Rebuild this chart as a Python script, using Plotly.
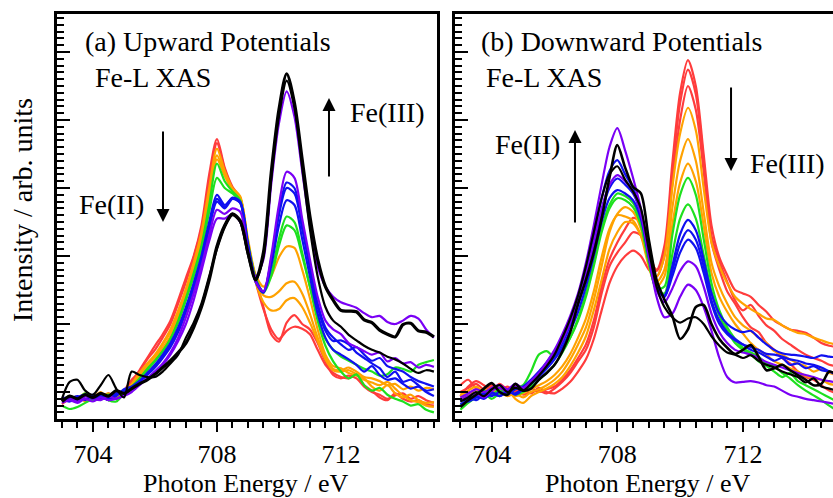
import plotly.graph_objects as go

# Photon energy grid (eV)
energy = [703 + 0.25 * i for i in range(49)]

# ---------------- (a) Upward potentials ----------------
up_red_1 = [-0.12, -0.08, -0.14, -0.06, -0.10, -0.04, -0.12, -0.05,
            0.00, 0.15, 0.32, 0.50, 0.68, 0.85, 1.05, 1.35,
            1.68, 2.00, 2.45, 3.20, 3.72, 3.30, 3.02, 2.85,
            2.15, 1.68, 1.25, 0.85, 0.74, 1.02, 1.13, 1.00,
            0.92, 0.72, 0.45, 0.25, 0.20, 0.24, 0.20, 0.08,
            0.00, -0.04, -0.10, -0.05, -0.02, -0.10, -0.06, -0.12,
            -0.16]
up_red_2 = [-0.18, -0.10, -0.08, -0.12, -0.06, -0.10, -0.02, -0.08,
            0.02, 0.18, 0.30, 0.48, 0.62, 0.80, 1.00, 1.30,
            1.62, 1.98, 2.40, 3.08, 3.66, 3.28, 2.98, 2.85,
            2.12, 1.62, 1.22, 0.92, 0.78, 0.90, 0.96, 0.93,
            0.85, 0.62, 0.40, 0.28, 0.22, 0.20, 0.26, 0.10,
            0.02, -0.08, -0.12, -0.02, -0.10, -0.14, -0.12, -0.18,
            -0.20]
up_orange_1 = [-0.10, -0.12, -0.06, -0.14, -0.08, 0.00, -0.10, -0.06,
               0.00, 0.12, 0.28, 0.42, 0.55, 0.72, 0.92, 1.20,
               1.52, 1.90, 2.35, 3.00, 3.58, 3.25, 3.00, 2.88,
               2.20, 1.62, 1.32, 1.20, 1.22, 1.35, 1.38, 1.25,
               1.02, 0.75, 0.48, 0.32, 0.30, 0.32, 0.26, 0.18,
               0.14, 0.10, 0.15, 0.05, -0.05, -0.12, -0.15, -0.20,
               -0.22]
up_orange_2 = [-0.14, -0.08, -0.12, -0.04, -0.10, -0.08, -0.02, -0.10,
               0.02, 0.10, 0.25, 0.40, 0.52, 0.70, 0.88, 1.15,
               1.48, 1.85, 2.28, 2.92, 3.48, 3.20, 2.98, 2.86,
               2.22, 1.68, 1.42, 1.40, 1.48, 1.60, 1.62, 1.45,
               1.15, 0.80, 0.50, 0.34, 0.32, 0.36, 0.30, 0.22,
               0.20, 0.16, 0.10, 0.12, 0.04, 0.08, 0.02, 0.06,
               0.04]
up_orange_3 = [-0.08, -0.12, -0.10, -0.02, -0.12, -0.06, -0.08, 0.00,
               0.00, 0.08, 0.22, 0.36, 0.48, 0.65, 0.82, 1.10,
               1.42, 1.80, 2.22, 2.85, 3.42, 3.18, 2.96, 2.85,
               2.25, 1.72, 1.55, 1.70, 1.98, 2.14, 2.12, 1.80,
               1.38, 0.92, 0.55, 0.38, 0.35, 0.28, 0.24, 0.20,
               0.08, 0.02, 0.10, -0.02, -0.08, -0.04, -0.12, -0.16,
               -0.15]
up_green_1 = [-0.20, -0.25, -0.22, -0.16, -0.10, -0.04, -0.12, -0.14,
              -0.02, 0.06, 0.18, 0.32, 0.45, 0.60, 0.78, 1.05,
              1.38, 1.75, 2.15, 2.75, 3.36, 3.10, 2.95, 2.82,
              2.20, 1.68, 1.48, 1.75, 2.25, 2.58, 2.50, 2.05,
              1.55, 1.05, 0.68, 0.45, 0.30, 0.20, 0.26, 0.10,
              0.02, 0.06, -0.04, -0.10, -0.14, -0.20, -0.18, -0.26,
              -0.30]
up_green_2 = [-0.12, -0.06, -0.10, -0.02, -0.12, -0.08, -0.04, -0.10,
              -0.02, 0.08, 0.20, 0.34, 0.46, 0.60, 0.78, 1.02,
              1.35, 1.70, 2.10, 2.65, 3.15, 3.00, 2.92, 2.80,
              2.18, 1.62, 1.46, 1.70, 2.15, 2.45, 2.38, 2.00,
              1.55, 1.10, 0.78, 0.62, 0.52, 0.46, 0.40, 0.34,
              0.30, 0.24, 0.26, 0.36, 0.34, 0.30, 0.40, 0.44,
              0.47]
up_blue_1 = [-0.14, -0.10, -0.06, -0.12, -0.04, -0.10, -0.08, -0.02,
             0.00, 0.06, 0.16, 0.28, 0.40, 0.55, 0.72, 0.95,
             1.25, 1.60, 2.00, 2.50, 2.90, 2.75, 2.85, 2.78,
             2.15, 1.62, 1.46, 1.85, 2.45, 2.82, 2.75, 2.25,
             1.70, 1.15, 0.80, 0.62, 0.55, 0.48, 0.40, 0.30,
             0.38, 0.25, 0.18, 0.20, 0.12, 0.05, 0.08, 0.00,
             -0.06]
up_blue_2 = [-0.10, -0.14, -0.08, -0.04, -0.10, -0.06, -0.12, -0.04,
             0.02, 0.04, 0.14, 0.26, 0.38, 0.52, 0.70, 0.92,
             1.22, 1.58, 1.98, 2.45, 2.84, 2.72, 2.86, 2.80,
             2.18, 1.65, 1.48, 1.92, 2.60, 3.00, 2.92, 2.40,
             1.82, 1.25, 0.90, 0.75, 0.76, 0.70, 0.58, 0.50,
             0.42, 0.35, 0.22, 0.30, 0.15, 0.18, 0.10, 0.02,
             0.04]
up_blue_3 = [-0.08, -0.10, -0.12, -0.06, -0.08, -0.02, -0.10, -0.06,
             0.04, 0.08, 0.16, 0.25, 0.36, 0.50, 0.66, 0.88,
             1.18, 1.52, 1.92, 2.40, 2.80, 2.70, 2.84, 2.78,
             2.16, 1.63, 1.47, 1.95, 2.65, 3.08, 3.00, 2.45,
             1.88, 1.30, 0.95, 0.80, 0.70, 0.62, 0.66, 0.55,
             0.46, 0.50, 0.38, 0.34, 0.30, 0.22, 0.16, 0.12,
             0.08]
up_purple_1 = [-0.16, -0.12, -0.16, -0.10, -0.14, -0.08, -0.12, -0.10,
               -0.06, 0.00, 0.10, 0.20, 0.30, 0.42, 0.58, 0.80,
               1.10, 1.45, 1.85, 2.30, 2.68, 2.62, 2.70, 2.65,
               2.10, 1.62, 1.48, 2.00, 2.75, 3.24, 3.15, 2.55,
               1.95, 1.40, 1.05, 0.92, 0.85, 0.72, 0.66, 0.60,
               0.55, 0.58, 0.45, 0.50, 0.42, 0.44, 0.36, 0.40,
               0.37]
up_purple_2 = [-0.12, -0.08, -0.14, -0.06, -0.10, -0.12, -0.06, -0.10,
               -0.04, 0.04, 0.12, 0.20, 0.30, 0.40, 0.55, 0.75,
               1.00, 1.35, 1.78, 2.22, 2.55, 2.55, 2.62, 2.50,
               2.05, 1.70, 1.95, 3.05, 3.95, 4.42, 4.05, 3.25,
               2.45, 1.85, 1.55, 1.40, 1.32, 1.28, 1.24, 1.16,
               1.10, 1.12, 1.03, 1.00, 1.05, 1.12, 1.08, 0.92,
               0.80]
up_black_1 = [-0.14, -0.06, -0.10, -0.04, -0.08, -0.02, -0.06, 0.02,
              -0.02, 0.05, 0.12, 0.18, 0.26, 0.36, 0.46, 0.58,
              0.72, 0.95, 1.25, 1.65, 2.14, 2.45, 2.62, 2.52,
              2.05, 1.65, 2.05, 3.22, 4.15, 4.68, 4.25, 3.42,
              2.58, 1.95, 1.55, 1.35, 1.20, 1.19, 1.18, 1.06,
              1.02, 0.91, 0.85, 0.81, 0.99, 1.01, 0.90, 0.88,
              0.81]
up_black_2 = [-0.10, 0.15, 0.18, 0.02, -0.04, 0.10, 0.25, 0.05,
              -0.08, 0.30, 0.25, 0.22, 0.22, 0.30, 0.42, 0.55,
              0.80, 1.02, 1.30, 1.70, 2.10, 2.42, 2.60, 2.50,
              2.02, 1.65, 1.98, 3.12, 4.05, 4.58, 4.18, 3.30,
              2.40, 1.70, 1.25, 1.05, 0.96, 0.84, 0.76, 0.68,
              0.62, 0.58, 0.52, 0.48, 0.42, 0.34, 0.28, 0.32,
              0.30]

# ---------------- (b) Downward potentials ----------------
down_red_1 = [0.10, 0.18, 0.05, -0.02, 0.08, 0.00, -0.05, 0.02,
              -0.04, 0.00, 0.02, -0.02, 0.05, 0.15, 0.28, 0.45,
              0.62, 0.95, 1.45, 1.85, 2.05, 2.20, 2.35, 2.30,
              2.00, 1.80, 2.15, 3.35, 4.40, 4.88, 4.50, 3.50,
              2.45, 1.98, 1.72, 1.50, 1.45, 1.40, 1.28, 1.18,
              1.05, 0.98, 0.92, 0.90, 0.87, 0.80, 0.72, 0.68,
              0.66]
down_red_2 = [-0.06, 0.08, 0.16, 0.10, 0.02, 0.12, 0.04, 0.10,
              0.02, 0.06, 0.00, 0.04, 0.08, 0.18, 0.32, 0.50,
              0.70, 1.05, 1.55, 1.95, 2.20, 2.40, 2.56, 2.50,
              2.10, 1.78, 2.05, 3.22, 4.25, 4.74, 4.38, 3.40,
              2.30, 1.92, 1.62, 1.35, 1.20, 1.28, 1.12, 0.98,
              0.90, 0.78, 0.70, 0.62, 0.55, 0.50, 0.46, 0.40,
              0.38]
down_red_3 = [0.00, 0.06, 0.12, 0.04, 0.10, 0.02, 0.08, 0.00,
              0.04, -0.02, 0.06, 0.00, -0.02, 0.05, 0.15, 0.30,
              0.48, 0.78, 1.20, 1.60, 1.85, 2.00, 2.08, 2.00,
              1.80, 1.70, 2.00, 3.05, 4.00, 4.50, 4.15, 3.25,
              2.20, 1.80, 1.48, 1.30, 1.10, 0.95, 0.88, 0.72,
              0.62, 0.50, 0.42, 0.30, 0.22, 0.18, 0.10, 0.02,
              -0.02]
down_orange_1 = [-0.04, 0.02, 0.08, 0.00, 0.06, -0.04, 0.02, -0.10,
                 -0.16, -0.06, 0.00, 0.05, 0.12, 0.22, 0.38, 0.58,
                 0.82, 1.20, 1.65, 2.10, 2.35, 2.50, 2.48, 2.30,
                 1.95, 1.70, 2.00, 3.00, 3.80, 4.18, 3.85, 3.00,
                 2.20, 1.85, 1.60, 1.40, 1.30, 1.22, 1.15, 1.08,
                 1.06, 0.98, 0.92, 0.87, 0.85, 0.80, 0.76, 0.72,
                 0.70]
down_orange_2 = [-0.10, -0.04, 0.04, -0.02, 0.04, 0.00, -0.06, -0.02,
                 -0.08, 0.00, 0.04, 0.10, 0.18, 0.30, 0.48, 0.70,
                 0.95, 1.35, 1.85, 2.35, 2.62, 2.72, 2.65, 2.40,
                 1.95, 1.62, 1.80, 2.70, 3.40, 3.72, 3.40, 2.65,
                 1.90, 1.55, 1.30, 1.10, 0.98, 0.90, 0.80, 0.72,
                 0.60, 0.55, 0.48, 0.42, 0.38, 0.30, 0.34, 0.28,
                 0.25]
down_orange_3 = [-0.06, 0.00, -0.04, 0.04, -0.02, 0.06, 0.00, -0.06,
                 -0.02, 0.04, 0.10, 0.16, 0.25, 0.38, 0.56, 0.80,
                 1.08, 1.48, 1.98, 2.40, 2.60, 2.58, 2.52, 2.30,
                 1.85, 1.55, 1.70, 2.45, 3.08, 3.36, 3.10, 2.45,
                 1.75, 1.40, 1.18, 1.00, 0.86, 0.72, 0.62, 0.55,
                 0.45, 0.40, 0.35, 0.30, 0.24, 0.20, 0.18, 0.12,
                 0.10]
down_green_1 = [-0.20, -0.10, -0.02, 0.02, -0.04, 0.04, -0.02, 0.06,
                0.10, 0.30, 0.55, 0.60, 0.52, 0.62, 0.80, 1.05,
                1.40, 1.85, 2.35, 2.70, 2.85, 2.82, 2.72, 2.45,
                1.90, 1.52, 1.55, 2.30, 2.90, 3.15, 2.90, 2.25,
                1.60, 1.20, 0.95, 0.78, 0.65, 0.58, 0.52, 0.42,
                0.38, 0.28, 0.20, 0.10, 0.02, -0.05, -0.12, -0.20,
                -0.28]
down_green_2 = [-0.26, -0.16, -0.08, -0.02, -0.10, -0.02, 0.04, -0.04,
                0.00, 0.08, 0.18, 0.28, 0.40, 0.58, 0.80, 1.08,
                1.45, 1.90, 2.40, 2.75, 2.92, 2.88, 2.78, 2.50,
                1.92, 1.50, 1.45, 2.02, 2.55, 2.76, 2.55, 2.02,
                1.48, 1.12, 0.90, 0.72, 0.62, 0.55, 0.45, 0.38,
                0.30, 0.22, 0.28, 0.16, 0.10, 0.04, -0.02, -0.08,
                -0.14]
down_blue_1 = [-0.14, -0.08, -0.12, -0.04, 0.00, -0.06, 0.02, -0.04,
               0.04, 0.12, 0.22, 0.34, 0.48, 0.66, 0.90, 1.18,
               1.55, 2.00, 2.50, 2.85, 2.97, 2.92, 2.82, 2.55,
               1.98, 1.50, 1.42, 1.85, 2.32, 2.53, 2.38, 1.95,
               1.45, 1.15, 1.00, 0.92, 0.88, 0.90, 0.80, 0.70,
               0.62, 0.57, 0.55, 0.54, 0.52, 0.50, 0.54, 0.52,
               0.51]
down_blue_2 = [-0.18, -0.12, -0.06, -0.10, -0.02, -0.06, 0.00, -0.02,
               0.06, 0.14, 0.26, 0.38, 0.52, 0.72, 0.98, 1.28,
               1.68, 2.15, 2.65, 3.00, 3.14, 3.05, 2.92, 2.62,
               2.02, 1.52, 1.40, 1.78, 2.18, 2.38, 2.24, 1.85,
               1.35, 1.05, 0.88, 0.78, 0.70, 0.62, 0.58, 0.52,
               0.46, 0.50, 0.40, 0.42, 0.35, 0.38, 0.32, 0.30,
               0.28]
down_blue_3 = [-0.10, -0.14, -0.08, -0.02, -0.06, 0.00, -0.04, 0.04,
               0.08, 0.18, 0.30, 0.44, 0.60, 0.80, 1.05, 1.38,
               1.80, 2.30, 2.85, 3.25, 3.41, 3.20, 3.00, 2.65,
               2.05, 1.55, 1.40, 1.70, 2.05, 2.24, 2.12, 1.75,
               1.30, 1.00, 0.85, 0.76, 0.70, 0.66, 0.62, 0.56,
               0.55, 0.52, 0.48, 0.46, 0.42, 0.40, 0.36, 0.30,
               0.25]
down_purple_1 = [-0.12, -0.06, -0.02, -0.08, 0.02, 0.06, 0.00, 0.08,
                 0.04, 0.14, 0.26, 0.40, 0.56, 0.76, 1.02, 1.32,
                 1.72, 2.20, 2.70, 3.05, 3.19, 3.10, 2.95, 2.62,
                 2.02, 1.50, 1.32, 1.52, 1.78, 1.92, 1.85, 1.55,
                 1.15, 0.88, 0.72, 0.62, 0.58, 0.55, 0.50, 0.44,
                 0.40, 0.36, 0.32, 0.28, 0.25, 0.22, 0.18, 0.16,
                 0.14]
down_purple_2 = [-0.08, -0.02, 0.04, 0.00, 0.06, 0.10, 0.04, 0.12,
                 0.06, 0.16, 0.28, 0.44, 0.62, 0.85, 1.12, 1.45,
                 1.90, 2.45, 3.05, 3.60, 3.88, 3.55, 3.15, 2.70,
                 2.00, 1.40, 1.10, 1.15, 1.40, 1.58, 1.50, 1.25,
                 0.90, 0.50, 0.22, 0.14, 0.15, 0.16, 0.14, 0.10,
                 0.08, 0.02, -0.04, -0.07, -0.10, -0.12, -0.14, -0.16,
                 -0.18]
down_black_1 = [-0.22, -0.12, -0.04, 0.05, 0.13, 0.00, -0.04, 0.12,
                0.02, 0.05, 0.18, 0.28, 0.40, 0.60, 0.88, 1.30,
                1.65, 2.05, 2.55, 3.15, 3.63, 3.30, 3.02, 2.92,
                2.25, 1.65, 1.36, 1.12, 0.78, 0.92, 1.25, 1.28,
                1.00, 0.78, 0.65, 0.56, 0.62, 0.69, 0.52, 0.32,
                0.35, 0.40, 0.32, 0.25, 0.18, 0.10, 0.12, 0.30,
                0.25]
down_black_2 = [-0.14, -0.08, 0.00, -0.06, 0.04, 0.10, 0.00, 0.06,
                0.02, 0.12, 0.24, 0.38, 0.55, 0.80, 1.08, 1.42,
                1.85, 2.35, 2.85, 3.20, 3.32, 3.12, 2.95, 2.70,
                2.10, 1.55, 1.25, 1.10, 1.02, 1.08, 1.10, 1.00,
                0.82, 0.68, 0.58, 0.55, 0.50, 0.54, 0.46, 0.40,
                0.36, 0.30, 0.26, 0.22, 0.14, 0.20, 0.08, 0.05,
                0.02]

# ---------------- styles ----------------
RED, ORANGE, GREEN, BLUE, PURPLE, BLACK = (
    "#ff3c3c", "#ffa200", "#1ee01e", "#1010f0", "#7a00f5", "#000000")
LW = 2.2

up_traces = [
    (up_red_1, RED, LW), (up_red_2, RED, LW),
    (up_orange_1, ORANGE, LW), (up_orange_2, ORANGE, LW), (up_orange_3, ORANGE, LW),
    (up_green_1, GREEN, LW), (up_green_2, GREEN, LW),
    (up_blue_1, BLUE, LW), (up_blue_2, BLUE, LW), (up_blue_3, BLUE, LW),
    (up_purple_1, PURPLE, LW), (up_purple_2, PURPLE, LW),
    (up_black_2, BLACK, LW), (up_black_1, BLACK, 3.2),
]
down_traces = [
    (down_red_1, RED, LW), (down_red_2, RED, LW), (down_red_3, RED, LW),
    (down_orange_1, ORANGE, LW), (down_orange_2, ORANGE, LW), (down_orange_3, ORANGE, LW),
    (down_green_1, GREEN, LW), (down_green_2, GREEN, LW),
    (down_blue_1, BLUE, LW), (down_blue_2, BLUE, LW), (down_blue_3, BLUE, LW),
    (down_purple_1, PURPLE, LW), (down_purple_2, PURPLE, LW),
    (down_black_2, BLACK, LW), (down_black_1, BLACK, 2.6),
]

fig = go.Figure()
for vals, col, w in up_traces:
    fig.add_trace(go.Scatter(x=energy, y=vals, mode="lines", xaxis="x", yaxis="y",
                             line=dict(color=col, width=w, shape="spline", smoothing=0.8),
                             showlegend=False, hoverinfo="skip"))
for vals, col, w in down_traces:
    fig.add_trace(go.Scatter(x=energy, y=vals, mode="lines", xaxis="x2", yaxis="y2",
                             line=dict(color=col, width=w, shape="spline", smoothing=0.8),
                             showlegend=False, hoverinfo="skip"))

FONT = "Liberation Serif, Times New Roman, serif"

def xax(domain, rng, anchor):
    return dict(domain=domain, range=rng, anchor=anchor, showgrid=False, zeroline=False,
                showline=True, linewidth=2.5, linecolor="black", mirror=True,
                ticks="outside", ticklen=10, tickwidth=2, tickcolor="black",
                tickmode="linear", tick0=704, dtick=4,
                tickfont=dict(family=FONT, size=26, color="black"),
                minor=dict(ticks="outside", ticklen=6, tickwidth=2, tickcolor="black",
                           tick0=703, dtick=0.5, showgrid=False))

def yax(anchor, mirror):
    return dict(anchor=anchor, range=[-0.397, 5.559], showgrid=False, zeroline=False,
                showline=True, linewidth=2.5, linecolor="black", mirror=mirror,
                ticks="inside", ticklen=13, tickwidth=2, tickcolor="black",
                tickmode="linear", tick0=0, dtick=1, showticklabels=False,
                minor=dict(ticks="inside", ticklen=7, tickwidth=1.5, tickcolor="black",
                           tick0=0, dtick=0.1, showgrid=False))

ann_font = dict(family=FONT, size=28, color="black")

def txt(x, y, s, angle=0, xanchor="left", size=28):
    return dict(x=x, y=y, xref="paper", yref="paper", text=s, showarrow=False,
                xanchor=xanchor, yanchor="middle", textangle=angle,
                font=dict(family=FONT, size=size, color="black"))

def arrow(x, y, ay):
    return dict(x=x, y=y, xref="paper", yref="paper", text="", showarrow=True,
                ax=0, ay=ay, arrowhead=2, arrowsize=1.3, arrowwidth=2, arrowcolor="black")

annotations = [
    txt(0.0335, 0.931, "(a) Upward Potentials"),
    txt(0.0464, 0.842, "Fe-L XAS"),
    txt(0.0258, 0.530, "Fe(II)"),
    txt(0.375, 0.756, "Fe(III)"),
    arrow(0.1366, 0.4864, -92),
    arrow(0.3505, 0.7926, 80),
    txt(0.5438, 0.931, "(b) Downward Potentials"),
    txt(0.5503, 0.842, "Fe-L XAS"),
    txt(0.5619, 0.679, "Fe(II)"),
    txt(0.8905, 0.632, "Fe(III)"),
    arrow(0.6675, 0.7136, 94),
    arrow(0.8686, 0.6123, -85),
    txt(-0.0451, 0.516, "Intensity / arb. units", angle=-90, xanchor="center"),
    txt(0.2436, -0.160, "Photon Energy / eV", xanchor="center", size=26),
    txt(0.7616, -0.160, "Photon Energy / eV", xanchor="center", size=26),
]

fig.update_layout(
    width=833, height=498,
    margin=dict(l=57, r=0, t=14, b=79),
    paper_bgcolor="white", plot_bgcolor="white",
    xaxis=xax([0, 0.4897], [702.84, 715.10], "y"),
    yaxis=yax("x", True),
    xaxis2=xax([0.5129, 1.0], [702.83, 714.87], "y2"),
    yaxis2=yax("x2", False),
    annotations=annotations,
    showlegend=False,
)

fig.write_html("out.html")
